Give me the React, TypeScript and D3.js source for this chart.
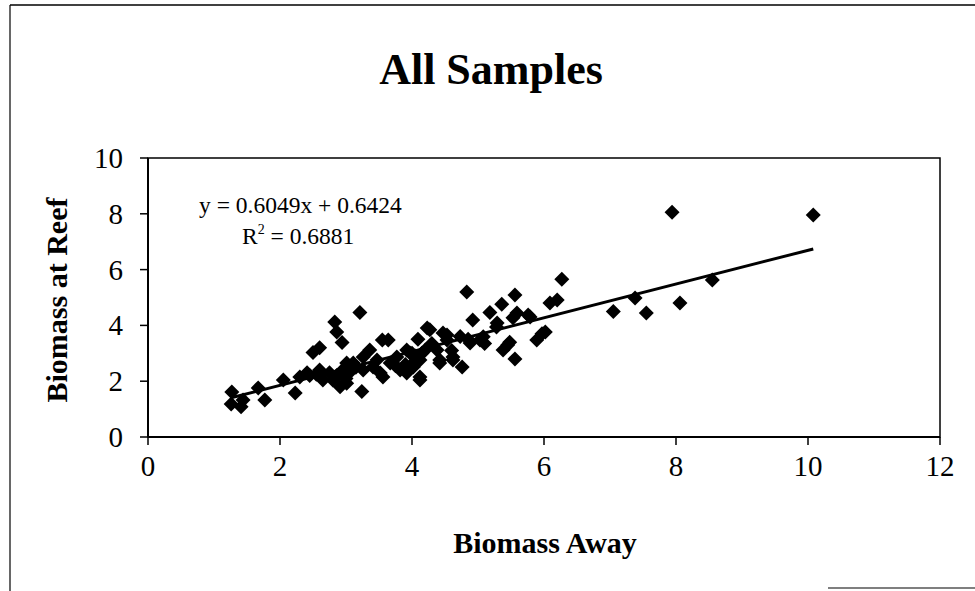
import React from "react";
import * as d3 from "d3";

const xTicks = [0, 2, 4, 6, 8, 10, 12];
const yTicks = [0, 2, 4, 6, 8, 10];

// Biomass Away (x) and Biomass at Reef (y)
const awayValues = [
  1.27, 1.26, 1.44, 1.41, 1.67, 1.77, 2.05, 2.23, 2.3, 2.41, 2.45, 2.5, 2.6, 2.6, 2.65,
  2.8, 2.83, 2.86, 2.94, 2.91, 2.95, 3.01, 3.01, 3.11, 3.21, 3.24, 3.26, 3.26, 3.36, 3.41,
  3.47, 3.52, 3.56, 3.55, 3.64, 3.67, 3.77, 3.82, 3.92, 3.92, 3.97, 4.02, 4.02, 4.09, 4.12,
  4.12, 4.12, 4.2, 4.23, 4.27, 4.38, 4.42, 4.42, 4.47, 4.53, 4.53, 4.62, 4.62, 4.73, 4.76,
  4.83, 4.88, 4.92, 5.03, 5.08, 5.18, 5.28, 5.29, 5.36, 5.38, 5.45, 5.48, 5.53, 5.56, 5.56,
  5.59, 5.76, 5.79, 5.89, 5.97, 6.02, 6.09, 6.2, 6.27, 7.05, 7.38, 7.55, 7.94, 8.06, 8.55,
  10.08, 4.3, 4.85, 3.0, 2.86, 4.0, 2.75, 3.05, 3.15, 3.9, 4.05, 4.15, 3.75, 4.6, 5.1, 2.55,
];
const reefValues = [
  1.61, 1.18, 1.33, 1.08, 1.76, 1.33, 2.04, 1.58, 2.15, 2.3, 2.2, 3.03, 3.2, 2.4, 2.04,
  2.04, 4.12, 3.76, 3.39, 1.8, 2.4, 2.65, 1.93, 2.65, 4.46, 1.63, 2.87, 2.4, 3.12, 2.51,
  2.76, 2.29, 2.15, 3.48, 3.48, 2.65, 2.87, 2.4, 3.12, 2.29, 3.01, 2.51, 2.65, 3.5, 2.04,
  2.15, 2.76, 3.12, 3.91, 3.84, 3.12, 2.76, 2.65, 3.73, 3.48, 3.66, 2.87, 2.76, 3.6, 2.51,
  5.2, 3.37, 4.19, 3.48, 3.59, 4.46, 3.94, 4.09, 4.76, 3.12, 3.3, 3.4, 4.27, 5.09, 2.8,
  4.44, 4.37, 4.3, 3.48, 3.7, 3.76, 4.8, 4.91, 5.65, 4.5, 4.98, 4.44, 8.06, 4.8, 5.63,
  7.96, 3.35, 3.5, 2.1, 2.2, 3.0, 2.3, 2.3, 2.5, 2.6, 2.9, 3.0, 2.55, 3.1, 3.35, 2.25,
];

const slope = 0.6049;
const intercept = 0.6424;
const equationText = "y = 0.6049x + 0.6424";
const r2Value = "0.6881";

const W = 975;
const H = 591;
const serif = "'Liberation Serif', 'Times New Roman', serif";

export default function App() {
  const x = d3.scaleLinear().domain([0, 12]).range([148, 940]);
  const y = d3.scaleLinear().domain([0, 10]).range([437, 158]);

  const points = awayValues.map((a, i) => [a, reefValues[i]] as [number, number]);
  const xMin = d3.min(awayValues) as number;
  const xMax = d3.max(awayValues) as number;
  const line = d3
    .line<number>()
    .x((d) => x(d))
    .y((d) => y(slope * d + intercept));

  const diamond = "M0,-7.5L7.5,0L0,7.5L-7.5,0Z";

  return (
    <svg
      width={W}
      height={H}
      style={{ position: "absolute", left: 0, top: 0, background: "#fff" }}
      fontFamily={serif}
    >
      <rect x={0} y={0} width={W} height={H} fill="#fff" />
      {/* outer chart border */}
      <line x1={10} y1={5} x2={W} y2={5} stroke="#000" strokeWidth={1.5} />
      <line x1={10} y1={5} x2={10} y2={H} stroke="#000" strokeWidth={1.2} />
      <line x1={828} y1={588} x2={W} y2={588} stroke="#000" strokeWidth={1.2} />

      {/* title */}
      <text x={491} y={84} textAnchor="middle" fontSize={44} fontWeight="bold">
        All Samples
      </text>

      {/* plot area border */}
      <rect
        x={x(0)}
        y={y(10)}
        width={x(12) - x(0)}
        height={y(0) - y(10)}
        fill="none"
        stroke="#000"
        strokeWidth={1.5}
      />

      {/* y axis */}
      <line x1={x(0)} y1={y(0)} x2={x(0)} y2={y(10)} stroke="#000" strokeWidth={2} />
      {yTicks.map((t) => (
        <g key={"y" + t}>
          <line x1={x(0) - 8} x2={x(0)} y1={y(t)} y2={y(t)} stroke="#000" strokeWidth={1.5} />
          <text x={123} y={y(t) + 10} textAnchor="end" fontSize={29}>
            {t}
          </text>
        </g>
      ))}

      {/* x axis */}
      <line x1={x(0)} y1={y(0)} x2={x(12)} y2={y(0)} stroke="#000" strokeWidth={2} />
      {xTicks.map((t) => (
        <g key={"x" + t}>
          <line x1={x(t)} x2={x(t)} y1={y(0)} y2={y(0) + 8} stroke="#000" strokeWidth={1.5} />
          <text x={x(t)} y={476} textAnchor="middle" fontSize={29}>
            {t}
          </text>
        </g>
      ))}

      {/* axis titles */}
      <text x={545} y={553} textAnchor="middle" fontSize={30} fontWeight="bold">
        Biomass Away
      </text>
      <text
        transform="translate(67,300) rotate(-90)"
        textAnchor="middle"
        fontSize={30}
        fontWeight="bold"
      >
        Biomass at Reef
      </text>

      {/* points */}
      {points.map((p, i) => (
        <path key={i} d={diamond} transform={`translate(${x(p[0])},${y(p[1])})`} fill="#000" />
      ))}

      {/* trend line */}
      <path d={line([xMin, xMax]) || ""} fill="none" stroke="#000" strokeWidth={3} />

      {/* equation */}
      <text x={199} y={213} fontSize={23.5}>
        {equationText}
      </text>
      <text x={242} y={244} fontSize={23.5}>
        R
        <tspan fontSize={14} dy={-10}>
          2
        </tspan>
        <tspan dy={10}>{" = " + r2Value}</tspan>
      </text>
    </svg>
  );
}
